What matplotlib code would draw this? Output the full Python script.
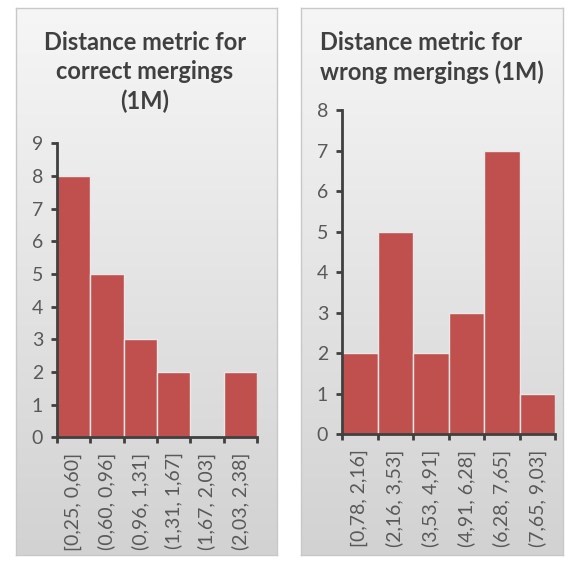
import numpy as np
import matplotlib.pyplot as plt
from matplotlib.colors import LinearSegmentedColormap

correct_bins = ["[0,25, 0,60]", "(0,60, 0,96]", "(0,96, 1,31]",
                "(1,31, 1,67]", "(1,67, 2,03]", "(2,03, 2,38]"]
correct_counts = [8, 5, 3, 2, 0, 2]

wrong_bins = ["[0,78, 2,16]", "(2,16, 3,53]", "(3,53, 4,91]",
              "(4,91, 6,28]", "(6,28, 7,65]", "(7,65, 9,03]"]
wrong_counts = [2, 5, 2, 3, 7, 1]

bar_color = "#C0504D"
text_color = "#404040"
font = ["Lato", "DejaVu Sans"]

fig = plt.figure(figsize=(5.7, 5.67), dpi=100)
fig.patch.set_facecolor("white")

shade = LinearSegmentedColormap.from_list("shade", ["#d2d2d2", "#f6f6f6"])
grad = np.linspace(0, 1, 256).reshape(-1, 1)


def panel(rect):
    bg = fig.add_axes(rect, zorder=0)
    bg.imshow(grad, aspect="auto", cmap=shade, origin="lower",
              extent=[0, 1, 0, 1])
    bg.set_xticks([])
    bg.set_yticks([])
    for s in bg.spines.values():
        s.set_color("#c8c8c8")
        s.set_linewidth(1)
    return bg


def histogram(rect, labels, counts, ymax):
    ax = fig.add_axes(rect, zorder=1)
    ax.patch.set_alpha(0)
    x = np.arange(len(counts))
    ax.bar(x, counts, width=1.0, color=bar_color, edgecolor="#e8e8e8",
           linewidth=1.0)
    ax.set_xlim(-0.5, len(counts) - 0.5)
    ax.set_ylim(0, ymax)
    ax.set_yticks(range(ymax + 1))
    ax.set_xticks(np.arange(len(counts) + 1) - 0.5, minor=False)
    ax.set_xticklabels([])
    ax.set_xticks(x, minor=True)
    ax.set_xticklabels(labels, minor=True, rotation=90, fontsize=14,
                       color="#595959", family=font)
    ax.tick_params(axis="x", which="minor", length=0, pad=11)
    ax.tick_params(axis="x", which="major", length=4, width=2,
                   color=text_color, direction="out")
    ax.tick_params(axis="y", length=4, width=2, color=text_color,
                   labelsize=14, labelcolor="#595959", pad=6)
    for t in ax.get_yticklabels():
        t.set_family(font)
    for s in ("top", "right"):
        ax.spines[s].set_visible(False)
    for s in ("left", "bottom"):
        ax.spines[s].set_color(text_color)
        ax.spines[s].set_linewidth(2)
    return ax


panel([0.028, 0.021, 0.458, 0.965])
panel([0.528, 0.021, 0.460, 0.965])

histogram([0.1000, 0.229, 0.351, 0.518], correct_bins, correct_counts, 9)
histogram([0.6000, 0.234, 0.374, 0.572], wrong_bins, wrong_counts, 8)

fig.text(0.254, 0.945, "Distance metric for\ncorrect mergings\n(1M)",
         ha="center", va="top", fontsize=17, fontweight="bold",
         color=text_color, family=font, linespacing=1.33)
fig.text(0.562, 0.945, "Distance metric for\nwrong mergings (1M)",
         ha="left", va="top", fontsize=17, fontweight="bold",
         color=text_color, family=font, linespacing=1.33)

fig.savefig("out.png", dpi=100)
